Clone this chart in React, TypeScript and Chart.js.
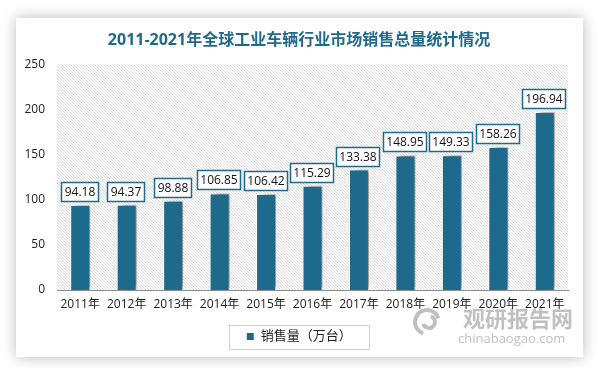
import React, { useEffect, useRef } from 'react';
import { Chart, registerables } from 'chart.js';
Chart.register(...registerables);

const years = ['2011年', '2012年', '2013年', '2014年', '2015年', '2016年', '2017年', '2018年', '2019年', '2020年', '2021年'];
const sales = [94.18, 94.37, 98.88, 106.85, 106.42, 115.29, 133.38, 148.95, 149.33, 158.26, 196.94];
const yTickValues = [0, 50, 100, 150, 200, 250];
const titleText = '2011-2021年全球工业车辆行业市场销售总量统计情况';
const legendLabel = '销售量（万台）';
const watermarkCn = '观研报告网';
const watermarkEn = 'chinabaogao.com';

const BLUE = '#1e6a8d';
const FONT = '"Open Sans", "Noto Sans CJK SC", sans-serif';

const backgroundPlugin = {
  id: 'bgCard',
  beforeDraw(chart: any) {
    const { ctx, chartArea: ca, width, height } = chart;
    ctx.save();
    ctx.fillStyle = '#ffffff';
    ctx.fillRect(0, 0, width, height);
    ctx.shadowColor = 'rgba(0,0,0,0.28)';
    ctx.shadowBlur = 14;
    ctx.fillStyle = '#ffffff';
    ctx.fillRect(16, 18, 567, 339);
    ctx.restore();

    // hatch pattern in plot area
    const n = 3;
    const pc = document.createElement('canvas');
    pc.width = n; pc.height = n;
    const p = pc.getContext('2d')!;
    p.strokeStyle = '#d6d6d6';
    p.lineWidth = 0.9;
    p.beginPath();
    p.moveTo(0, 0); p.lineTo(n, n);
    p.moveTo(-1, n - 1); p.lineTo(1, n + 1);
    p.moveTo(n - 1, -1); p.lineTo(n + 1, 1);
    p.stroke();
    ctx.save();
    ctx.fillStyle = ctx.createPattern(pc, 'repeat');
    ctx.fillRect(ca.left, ca.top, ca.right - ca.left, ca.bottom - ca.top);
    ctx.restore();

    // watermark
    ctx.save();
    ctx.strokeStyle = 'rgba(150,150,150,0.6)';
    ctx.lineWidth = 4;
    ctx.beginPath();
    ctx.arc(427, 322, 12, Math.PI * 0.6, Math.PI * 1.9);
    ctx.stroke();
    ctx.beginPath();
    ctx.arc(429, 322, 6, Math.PI * 1.6, Math.PI * 0.9);
    ctx.stroke();
    ctx.fillStyle = 'rgba(140,140,140,0.55)';
    ctx.font = `bold 22px ${FONT}`;
    ctx.textAlign = 'left';
    ctx.textBaseline = 'alphabetic';
    ctx.fillText(watermarkCn, 463, 327);
    ctx.font = `13px ${FONT}`;
    ctx.fillText(watermarkEn, 458, 343);
    ctx.restore();
  },
};

const shadowPlugin = {
  id: 'barShadow',
  beforeDatasetsDraw(chart: any) {
    const { ctx } = chart;
    ctx.save();
    ctx.shadowColor = 'rgba(0,0,0,0.45)';
    ctx.shadowBlur = 5;
    ctx.shadowOffsetX = 4;
    ctx.shadowOffsetY = -1;
  },
  afterDatasetsDraw(chart: any) {
    chart.ctx.restore();
  },
};

const labelPlugin = {
  id: 'valueLabels',
  afterDatasetsDraw(chart: any) {
    const { ctx } = chart;
    const meta = chart.getDatasetMeta(0);
    ctx.save();
    ctx.font = `12px ${FONT}`;
    meta.data.forEach((bar: any, i: number) => {
      const txt = sales[i].toFixed(2);
      const tw = ctx.measureText(txt).width;
      const w = Math.round(tw + 6);
      const h = 19;
      const x = Math.round(bar.x - w / 2 - 1) + 0.5;
      const y = Math.round(bar.y - 4 - h) + 0.5;
      ctx.fillStyle = '#ffffff';
      ctx.fillRect(x, y, w, h);
      ctx.strokeStyle = BLUE;
      ctx.lineWidth = 1.5;
      ctx.strokeRect(x, y, w, h);
      ctx.fillStyle = '#111111';
      ctx.textAlign = 'center';
      ctx.textBaseline = 'middle';
      ctx.fillText(txt, x + w / 2, y + h / 2 + 0.5);
    });
    ctx.restore();
  },
};

const legendBoxPlugin = {
  id: 'legendBox',
  afterDraw(chart: any) {
    const lg = chart.legend;
    if (!lg || !lg.legendHitBoxes || !lg.legendHitBoxes.length) return;
    const hb = lg.legendHitBoxes[0];
    const { ctx } = chart;
    const cy = hb.top + hb.height / 2;
    ctx.save();
    ctx.strokeStyle = '#d2d2d2';
    ctx.lineWidth = 1;
    ctx.strokeRect(Math.round(hb.left - 17) + 0.5, Math.round(cy - 12) + 0.5, Math.round(hb.width + 34), 24);
    ctx.restore();
  },
};

export default function App() {
  const ref = useRef<HTMLCanvasElement | null>(null);
  useEffect(() => {
    document.body.style.margin = '0';
    const chart = new Chart(ref.current!, {
      type: 'bar',
      data: {
        labels: years,
        datasets: [
          {
            label: legendLabel,
            data: sales,
            backgroundColor: BLUE,
            borderColor: '#ffffff',
            borderWidth: 1,
            categoryPercentage: 1,
            barPercentage: 0.43,
          },
        ],
      },
      options: {
        animation: false,
        responsive: false,
        devicePixelRatio: 1,
        layout: { padding: { left: 15, right: 15, top: 0, bottom: 15 } },
        plugins: {
          title: {
            display: true,
            text: titleText,
            color: BLUE,
            font: { family: FONT, size: 16, weight: 'bold' },
            padding: { top: 31, bottom: 14 },
          },
          legend: {
            display: true,
            position: 'bottom',
            labels: {
              boxWidth: 8,
              boxHeight: 8,
              padding: 10,
              color: '#222',
              font: { family: FONT, size: 13 },
            },
          },
          tooltip: { enabled: false },
        },
        scales: {
          x: {
            grid: { display: false, drawTicks: false },
            border: { display: true, color: '#8c8c8c', width: 1 },
            ticks: { color: '#222', font: { family: FONT, size: 12 }, padding: 7, maxRotation: 0, autoSkip: false },
            afterFit: (s: any) => { s.height = 30; },
          },
          y: {
            min: 0,
            max: 250,
            grid: { display: false, drawTicks: false },
            border: { display: false },
            afterBuildTicks: (s: any) => { s.ticks = yTickValues.map((v) => ({ value: v })); },
            ticks: { color: '#222', font: { family: FONT, size: 12 }, padding: 12 },
            afterFit: (s: any) => { s.width = 42; },
          },
          yR: {
            position: 'right',
            display: true,
            grid: { display: false, drawTicks: false },
            border: { display: false },
            ticks: { display: false },
            afterFit: (s: any) => { s.width = 15; },
          },
        },
      },
      plugins: [backgroundPlugin, shadowPlugin, labelPlugin, legendBoxPlugin],
    } as any);
    return () => chart.destroy();
  }, []);
  return (
    <div style={{ position: 'absolute', left: 0, top: 0, width: 598, height: 368 }}>
      <canvas ref={ref} width={598} height={368} style={{ display: 'block', width: 598, height: 368 }} />
    </div>
  );
}
